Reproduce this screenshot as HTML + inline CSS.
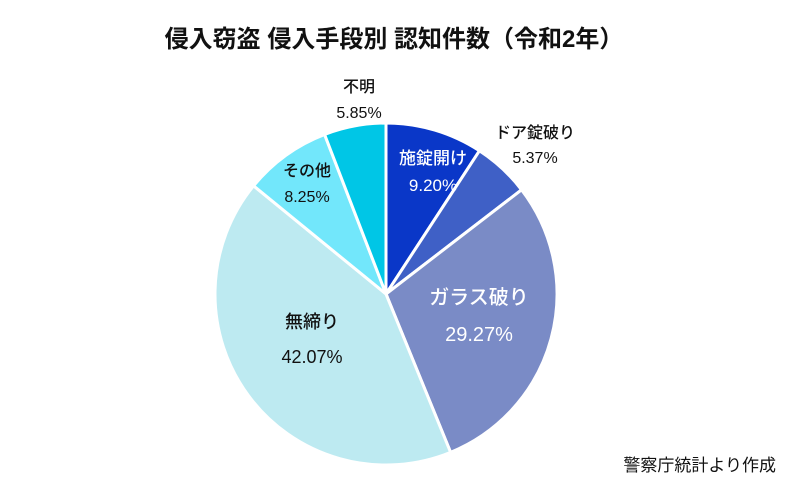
<!DOCTYPE html>
<html><head><meta charset="utf-8"><style>
body{margin:0;background:#fff;width:788px;height:487px;overflow:hidden;font-family:"Liberation Sans","Noto Sans CJK JP",sans-serif}
svg text{font-family:"Liberation Sans","Noto Sans CJK JP",sans-serif}
</style></head><body>
<svg id="chart" width="788" height="487">
<text x="394" y="47" text-anchor="middle" font-size="24" font-weight="bold" fill="#111">侵入窃盗 侵入手段別 認知件数（令和2年）</text>
<text x="776" y="471" text-anchor="end" font-size="17" fill="#111">警察庁統計より作成</text>
<g id="slices"></g><g id="labels"></g>
</svg>
<script>
const categories=["施錠開け","ドア錠破り","ガラス破り","無締り","その他","不明"];
const values=[9.20,5.37,29.27,42.07,8.25,5.85];
const valueLabels=["9.20%","5.37%","29.27%","42.07%","8.25%","5.85%"];
const colors=["#0a37c8","#3f60c6","#7a8bc6","#bdeaf1","#72e7fb","#00c6e6"];
const labelPos=[[433,164,"#fff",17,27],[535,138,"#111",16,25],[479,304,"#fff",20,37],[312,328,"#111",18,35],[307,176,"#111",16,26],[359,92,"#111",16,26]];
const cx=386,cy=294,r=171;
const ns="http://www.w3.org/2000/svg";
const total=values.reduce((a,b)=>a+b,0);
let a0=-Math.PI/2;
const sg=document.getElementById('slices'),lg=document.getElementById('labels');
values.forEach((v,i)=>{
 const a1=a0+v/total*2*Math.PI;
 const x0=cx+r*Math.cos(a0),y0=cy+r*Math.sin(a0),x1=cx+r*Math.cos(a1),y1=cy+r*Math.sin(a1);
 const p=document.createElementNS(ns,'path');
 p.setAttribute('d',`M${cx},${cy}L${x0},${y0}A${r},${r} 0 ${a1-a0>Math.PI?1:0} 1 ${x1},${y1}Z`);
 p.setAttribute('fill',colors[i]);p.setAttribute('stroke','#fff');p.setAttribute('stroke-width','3');
 
 
 sg.appendChild(p);
 const [lx,ly,c,fs,dy]=labelPos[i];
 const t1=document.createElementNS(ns,'text');
 t1.setAttribute('x',lx);t1.setAttribute('y',ly);t1.setAttribute('text-anchor','middle');t1.setAttribute('font-size',fs);t1.setAttribute('fill',c);t1.setAttribute('font-weight','500');
 t1.textContent=categories[i];
 
 
 lg.appendChild(t1);
 const t2=document.createElementNS(ns,'text');
 t2.setAttribute('x',lx);t2.setAttribute('y',ly+dy);t2.setAttribute('text-anchor','middle');t2.setAttribute('font-size',fs);t2.setAttribute('fill',c);
 t2.textContent=valueLabels[i];
 
 
 lg.appendChild(t2);
 a0=a1;
});
</script>
</body></html>
